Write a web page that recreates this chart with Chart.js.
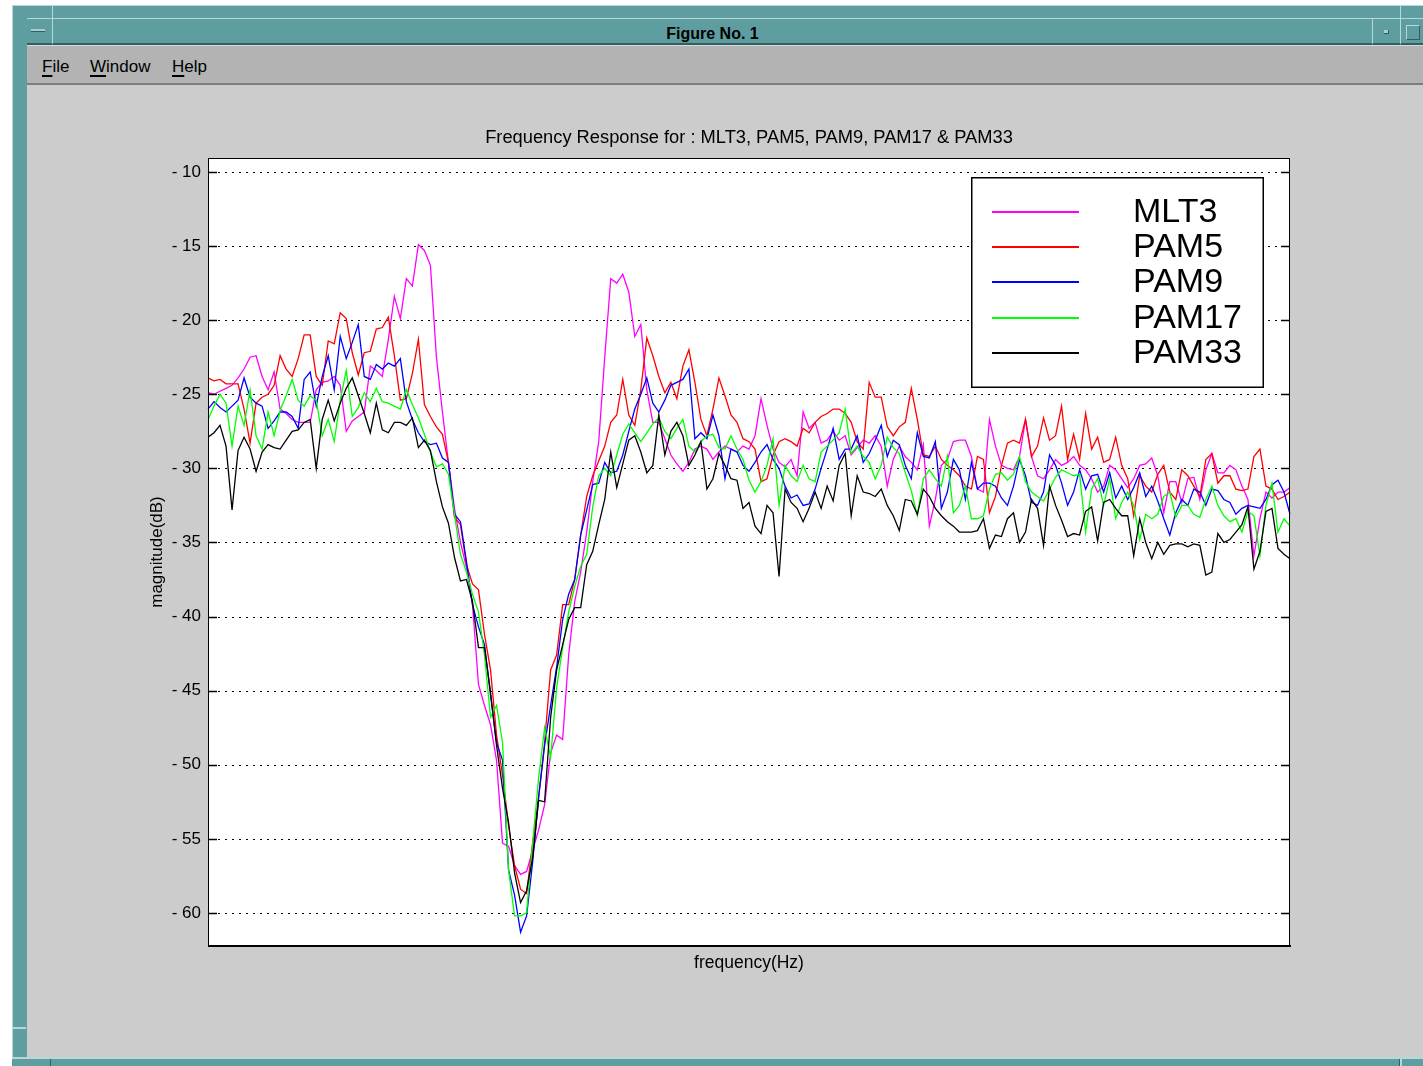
<!DOCTYPE html>
<html>
<head>
<meta charset="utf-8">
<title>Figure No. 1</title>
<script src="https://cdn.jsdelivr.net/npm/chart.js@4/dist/chart.umd.min.js"></script>
<style>
  html, body { margin: 0; padding: 0; background: #ffffff; }
  body { width: 1423px; height: 1066px; position: relative; overflow: hidden;
         font-family: "Liberation Sans", Arial, Helvetica, sans-serif; }
  .abs { position: absolute; box-sizing: border-box; }
  #frame { left: 12px; top: 5px; width: 1411px; height: 1061px; background: #5f9ea0;
           border-top: 1px solid #b7d8d9; border-left: 1px solid #b7d8d9; }
  #titlebar { left: 27px; top: 18px; width: 1346px; height: 27px; background: #5f9ea0;
              border-top: 1px solid #b7d8d9; border-bottom: 2px solid #2f5f61; }
  #sysbtn { left: 27px; top: 18px; width: 26px; height: 27px; border-right: 1px solid #b7d8d9;
            border-top: 1px solid #b7d8d9; border-bottom: 2px solid #2f5f61; }
  #sysicon { left: 31px; top: 29px; width: 14px; height: 3px; background: #a9cfd0;
             border-bottom: 1px solid #2f5f61; }
  #minbtn { left: 1372px; top: 18px; width: 28px; height: 27px; border-left: 1px solid #b7d8d9;
            border-top: 1px solid #b7d8d9; border-bottom: 2px solid #2f5f61; }
  #mindot { left: 1384px; top: 30px; width: 5px; height: 4px; background: #a9cfd0;
            border-right: 1px solid #2f5f61; border-bottom: 1px solid #2f5f61; }
  #maxbtn { left: 1400px; top: 18px; width: 23px; height: 27px; border-left: 1px solid #b7d8d9;
            border-top: 1px solid #b7d8d9; border-bottom: 2px solid #2f5f61; }
  #maxsq { left: 1406px; top: 25px; width: 14px; height: 15px; border: 1px solid #b7d8d9;
           border-right-color: #2f5f61; border-bottom-color: #2f5f61; }
  .vsep { width: 1px; background: #b7d8d9; }
  #caption { left: 53px; top: 21px; width: 1319px; height: 26px; line-height: 26px; text-align: center;
             font-weight: bold; font-size: 16px; color: #000; }
  #menubar { left: 27px; top: 45px; width: 1396px; height: 40px; background: #b3b3b3;
             border-top: 1px solid #dcdcdc; border-bottom: 2px solid #7d7d7d; }
  .menu { top: 55px; height: 24px; line-height: 24px; font-size: 17px; color: #000; }
  .menu u { text-decoration-thickness: 2px; text-underline-offset: 3px; }
  #figure { left: 27px; top: 85px; width: 1396px; height: 972px; background: #cccccc; }
  #bottom { left: 12px; top: 1057px; width: 1411px; height: 9px; background: #5f9ea0;
            border-top: 2px solid #b7d8d9; }
  #plot { left: 0; top: 0; z-index: 5; }
</style>
</head>
<body>
<div id="frame" class="abs"></div>
<div class="abs vsep" style="left:52px;top:6px;height:12px;"></div>
<div class="abs vsep" style="left:1400px;top:6px;height:12px;"></div>
<div class="abs" style="left:12px;top:1027px;width:14px;height:2px;background:#b7d8d9;"></div>
<div id="titlebar" class="abs"></div>
<div id="sysbtn" class="abs"></div>
<div id="sysicon" class="abs"></div>
<div id="minbtn" class="abs"></div>
<div id="mindot" class="abs"></div>
<div id="maxbtn" class="abs"></div>
<div id="maxsq" class="abs"></div>
<div id="caption" class="abs">Figure No. 1</div>
<div id="menubar" class="abs"></div>
<div class="abs menu" style="left:42px;"><u>F</u>ile</div>
<div class="abs menu" style="left:90px;"><u>W</u>indow</div>
<div class="abs menu" style="left:172px;"><u>H</u>elp</div>
<div id="figure" class="abs"></div>
<div id="bottom" class="abs"></div>
<div class="abs" style="left:50px;top:1059px;width:1px;height:7px;background:#2f5f61;"></div>
<div class="abs" style="left:1399px;top:1059px;width:1px;height:7px;background:#2f5f61;"></div>
<div class="abs" style="left:1400px;top:1059px;width:2px;height:7px;background:#b7d8d9;"></div>
<canvas id="plot" class="abs" width="1423" height="1066"></canvas>

<script>
// Magnitude (dB) of each line code, sampled over the same frequency bins.
const mlt3 = [
  -24.9, -25.0, -24.8, -24.6, -24.4, -23.9, -23.3, -22.5, -22.4, -23.8,
  -24.7, -23.5, -26.0, -26.3, -26.7, -26.9, -26.9, -26.9, -24.7, -24.2,
  -24.1, -23.8, -24.4, -27.5, -26.8, -26.5, -26.2, -23.1, -23.4, -23.8,
  -21.3, -18.4, -19.9, -17.2, -17.7, -14.9, -15.3, -16.3, -22.5, -26.2,
  -29.6, -32.7, -35.0, -36.7, -39.2, -44.6, -46.0, -47.3, -49.7, -55.3,
  -55.5, -56.8, -57.4, -57.2, -55.8, -54.4, -52.7, -49.2, -48.0, -48.3,
  -42.6, -39.0, -37.0, -34.3, -30.9, -28.2, -22.5, -17.2, -17.5, -16.9,
  -18.1, -21.1, -20.3, -24.7, -26.9, -26.9, -28.0, -29.1, -29.7, -30.2,
  -29.6, -28.7, -28.5, -28.7, -29.4, -28.9, -28.5, -28.7, -28.9, -28.5,
  -28.7, -27.8, -25.3, -27.1, -28.7, -29.6, -29.9, -29.4, -30.5, -26.2,
  -27.3, -26.9, -28.3, -28.1, -27.5, -28.1, -27.8, -29.1, -28.6, -28.1,
  -28.3, -27.8, -28.5, -31.2, -29.4, -28.5, -29.2, -29.6, -30.1, -28.4,
  -33.9, -32.1, -29.8, -29.4, -28.2, -28.1, -28.1, -29.2, -31.4, -31.6,
  -26.7, -28.5, -29.8, -30.0, -30.1, -29.2, -26.7, -29.2, -30.5, -30.7,
  -30.1, -29.4, -29.8, -29.6, -29.2, -29.8, -30.1, -30.7, -31.6, -31.2,
  -29.8, -30.1, -30.7, -31.3, -30.7, -29.8, -29.7, -29.3, -30.5, -33.0,
  -30.9, -30.9, -32.3, -30.7, -30.6, -32.1, -30.1, -29.0, -30.3, -30.3,
  -29.8, -30.1, -31.2, -32.1, -35.9, -33.4, -31.6, -32.0, -31.6, -31.6,
  -31.3
];

const pam5 = [
  -23.9, -24.1, -24.0, -24.3, -24.3, -24.3, -26.0, -28.3, -25.6, -25.2,
  -25.0, -24.4, -22.4, -23.3, -23.8, -22.6, -21.0, -21.0, -23.8, -24.4,
  -21.4, -21.6, -19.5, -19.9, -22.2, -23.7, -22.2, -22.1, -20.6, -20.5,
  -19.8, -22.4, -25.4, -25.3, -23.6, -21.3, -25.7, -26.5, -27.2, -27.7,
  -29.6, -33.3, -33.8, -36.5, -37.8, -38.2, -41.2, -43.6, -48.0, -50.7,
  -54.1, -56.8, -58.4, -58.7, -55.3, -52.2, -48.5, -43.6, -42.6, -39.2,
  -39.2, -37.5, -34.5, -31.9, -30.5, -29.5, -28.5, -26.9, -26.4, -24.0,
  -26.4, -27.1, -24.7, -21.2, -22.4, -23.8, -24.9, -24.2, -25.3, -23.1,
  -22.0, -24.2, -26.7, -27.8, -26.0, -23.9, -25.1, -26.4, -26.9, -28.0,
  -28.2, -28.7, -30.9, -30.7, -29.1, -28.2, -28.0, -28.2, -28.5, -27.3,
  -27.6, -26.9, -26.5, -26.3, -26.0, -26.0, -26.3, -26.9, -28.2, -28.7,
  -24.2, -25.2, -25.2, -27.2, -27.8, -27.2, -26.9, -24.6, -26.7, -29.1,
  -29.2, -28.5, -29.4, -29.8, -30.1, -30.5, -31.2, -31.4, -29.2, -29.4,
  -33.0, -31.9, -29.8, -28.3, -28.1, -28.3, -26.7, -29.2, -28.5, -26.6,
  -28.1, -27.8, -25.8, -29.4, -27.7, -29.4, -26.3, -28.7, -27.9, -29.6,
  -29.4, -27.9, -29.8, -30.7, -33.2, -30.5, -31.2, -31.6, -30.4, -29.8,
  -31.6, -32.1, -30.1, -30.5, -31.2, -31.9, -29.4, -29.0, -31.0, -30.5,
  -30.5, -31.4, -31.5, -31.4, -29.2, -28.7, -31.2, -31.4, -32.1, -31.9,
  -31.6
];

const pam9 = [
  -26.0, -25.5, -25.9, -26.2, -25.8, -25.4, -23.9, -25.2, -25.6, -25.8,
  -27.3, -26.8, -26.2, -26.2, -26.5, -27.3, -24.0, -23.5, -25.8, -23.8,
  -22.4, -24.7, -21.1, -22.6, -21.5, -20.3, -23.8, -24.0, -23.0, -23.3,
  -22.9, -23.1, -22.6, -25.5, -26.7, -27.6, -28.2, -28.4, -28.3, -29.3,
  -29.6, -33.1, -33.6, -36.3, -39.2, -40.7, -41.9, -45.3, -48.5, -49.7,
  -57.1, -58.8, -61.3, -60.2, -56.6, -52.2, -48.7, -46.0, -43.4, -40.2,
  -38.5, -37.5, -34.5, -32.8, -31.1, -31.0, -29.6, -30.3, -30.2, -29.1,
  -27.5, -26.0, -25.0, -23.9, -25.6, -26.2, -25.4, -24.4, -24.2, -24.0,
  -23.3, -28.0, -27.6, -28.0, -26.4, -27.8, -30.7, -28.7, -28.9, -29.8,
  -30.2, -29.6, -28.9, -28.4, -29.4, -30.0, -31.2, -32.0, -31.8, -32.5,
  -32.4, -31.4, -30.0, -28.7, -27.3, -29.4, -28.7, -28.7, -27.8, -29.6,
  -29.0, -28.1, -27.1, -29.2, -28.1, -28.4, -29.8, -30.7, -27.6, -29.2,
  -29.3, -28.2, -32.7, -31.6, -29.4, -30.1, -32.1, -29.6, -31.4, -31.0,
  -31.0, -31.2, -32.0, -32.5, -31.2, -29.4, -30.5, -32.3, -32.5, -31.6,
  -29.1, -29.8, -31.0, -32.5, -31.6, -30.1, -31.4, -30.5, -30.4, -31.6,
  -30.3, -32.0, -31.2, -32.1, -31.3, -30.3, -31.9, -31.2, -32.2, -33.4,
  -34.5, -33.0, -32.1, -32.5, -31.4, -31.6, -32.5, -31.4, -31.5, -32.1,
  -32.3, -33.1, -32.7, -32.5, -32.6, -32.7, -32.1, -31.1, -30.8, -31.6,
  -33.1
];

const pam17 = [
  -26.7, -25.8, -25.0, -25.6, -28.5, -25.8, -27.1, -24.7, -27.8, -28.7,
  -26.2, -27.8, -26.1, -25.1, -24.0, -25.4, -25.8, -25.1, -25.4, -27.8,
  -26.7, -28.2, -25.4, -23.4, -26.5, -25.9, -24.9, -25.5, -24.6, -25.5,
  -25.6, -25.8, -26.0, -24.7, -25.7, -26.6, -27.7, -28.9, -29.9, -29.7,
  -30.4, -33.1, -35.8, -37.0, -38.5, -39.7, -42.6, -46.8, -46.0, -48.5,
  -57.1, -60.2, -60.2, -60.0, -55.3, -50.9, -47.5, -49.5, -44.8, -42.1,
  -39.7, -38.0, -36.6, -35.8, -32.6, -30.5, -30.0, -30.5, -29.1, -27.7,
  -27.0, -27.6, -28.2, -27.6, -27.0, -26.6, -27.5, -28.0, -27.3, -26.7,
  -28.5, -28.9, -28.2, -27.8, -27.7, -28.6, -28.7, -27.8, -28.7, -29.4,
  -30.8, -31.6, -30.9, -29.8, -28.0, -32.5, -29.8, -30.5, -30.9, -29.8,
  -30.7, -30.9, -28.9, -28.5, -28.1, -27.6, -26.0, -29.0, -28.5, -29.2,
  -29.6, -30.7, -29.8, -27.9, -28.6, -29.0, -30.3, -31.5, -33.2, -30.7,
  -30.1, -30.7, -31.2, -29.2, -33.0, -32.5, -31.2, -33.4, -33.4, -33.2,
  -31.4, -30.4, -30.3, -30.8, -30.4, -29.2, -30.9, -31.6, -31.9, -32.2,
  -31.4, -30.6, -30.1, -30.3, -30.5, -30.4, -34.3, -31.4, -30.7, -32.5,
  -30.7, -33.4, -32.3, -31.6, -32.5, -34.8, -33.1, -33.4, -33.1, -31.9,
  -31.6, -33.3, -32.5, -32.5, -33.1, -33.3, -32.1, -31.2, -32.5, -33.2,
  -33.6, -33.4, -34.3, -32.9, -33.2, -35.9, -32.5, -31.0, -34.3, -33.4,
  -33.9
];

const pam33 = [
  -27.9, -27.6, -27.1, -28.5, -32.8, -28.8, -27.9, -28.7, -30.2, -28.9,
  -28.4, -28.6, -28.7, -28.1, -27.5, -27.4, -26.9, -26.7, -30.0, -26.7,
  -25.4, -26.8, -25.6, -24.6, -23.9, -25.1, -26.3, -27.6, -25.6, -27.4,
  -27.6, -26.9, -26.9, -27.1, -26.6, -28.6, -28.1, -28.8, -30.9, -32.6,
  -33.7, -36.0, -37.6, -37.5, -39.0, -42.1, -42.1, -45.1, -48.7, -51.6,
  -53.9, -57.3, -59.3, -58.5, -56.3, -52.4, -52.5, -46.8, -43.6, -41.9,
  -40.2, -39.4, -39.4, -36.5, -35.6, -33.8, -32.1, -28.9, -31.3, -29.7,
  -28.1, -27.8, -28.9, -30.3, -29.8, -26.4, -29.1, -27.5, -26.9, -27.8,
  -29.8, -29.1, -28.2, -31.4, -30.7, -29.0, -29.8, -30.7, -30.8, -32.7,
  -32.3, -33.9, -34.4, -32.5, -33.0, -37.3, -31.4, -32.3, -32.7, -33.6,
  -32.7, -31.6, -32.7, -31.2, -32.2, -29.8, -29.0, -33.2, -30.5, -31.6,
  -31.7, -31.9, -31.4, -32.5, -33.2, -34.2, -32.1, -32.2, -33.1, -31.4,
  -31.9, -32.7, -33.2, -33.6, -33.9, -34.3, -34.3, -34.3, -34.2, -33.4,
  -35.4, -34.5, -34.6, -33.4, -33.0, -35.0, -34.3, -32.1, -32.7, -35.2,
  -31.2, -32.5, -33.5, -34.6, -34.4, -34.5, -32.9, -32.6, -34.9, -32.3,
  -32.1, -32.7, -33.2, -33.2, -35.9, -33.4, -35.0, -36.1, -35.0, -35.8,
  -35.2, -35.1, -35.1, -35.3, -35.1, -35.2, -37.2, -37.0, -34.4, -35.0,
  -34.8, -34.3, -33.8, -32.6, -36.8, -35.6, -32.9, -32.7, -35.4, -35.8,
  -36.1
];

const seriesNames  = ['MLT3', 'PAM5', 'PAM9', 'PAM17', 'PAM33'];
const seriesValues = [mlt3, pam5, pam9, pam17, pam33];
const seriesColors = ['#ff00ff', '#ff0000', '#0000ff', '#00ff00', '#000000'];

const yTicks = [-10, -15, -20, -25, -30, -35, -40, -45, -50, -55, -60];
const yLimits = [-62.23, -9.06];
const sampleIndex = mlt3.map((_, i) => i);

const FONT = '"Liberation Sans", Arial, Helvetica, sans-serif';
const titleText = 'Frequency Response for : MLT3, PAM5, PAM9, PAM17 & PAM33';
const xTitleText = 'frequency(Hz)';
const yTitleText = 'magnitude(dB)';

// Axes box, dotted grid, inward tick marks, titles and boxed legend.
const axesDecor = {
  id: 'axesDecor',
  beforeDraw(chart) {
    const { ctx, chartArea: a } = chart;
    ctx.save();
    ctx.fillStyle = '#ffffff';
    ctx.fillRect(a.left, a.top, a.right - a.left, a.bottom - a.top);
    ctx.restore();
  },
  beforeDatasetsDraw(chart) {
    const { ctx, chartArea: a, scales } = chart;
    ctx.save();
    ctx.strokeStyle = '#000000';
    ctx.lineWidth = 1;
    ctx.setLineDash([2, 5]);
    scales.y.ticks.forEach(t => {
      const y = Math.round(scales.y.getPixelForValue(t.value)) + 0.5;
      ctx.beginPath();
      ctx.moveTo(a.left + 10, y);
      ctx.lineTo(a.right - 8, y);
      ctx.stroke();
    });
    ctx.restore();
  },
  afterDatasetsDraw(chart) {
    const { ctx, chartArea: a, scales } = chart;
    ctx.save();
    ctx.strokeStyle = '#000000';
    ctx.lineWidth = 1;
    ctx.strokeRect(a.left + 0.5, a.top + 0.5, a.right - a.left - 1, a.bottom - a.top - 1);
    ctx.fillStyle = '#000000';
    ctx.fillRect(a.left, a.bottom - 1, a.right - a.left + 1, 2);
    ctx.lineWidth = 1.5;
    scales.y.ticks.forEach(t => {
      const y = Math.round(scales.y.getPixelForValue(t.value)) + 0.5;
      ctx.beginPath();
      ctx.moveTo(a.left, y); ctx.lineTo(a.left + 9, y);
      ctx.moveTo(a.right - 9, y); ctx.lineTo(a.right, y);
      ctx.stroke();
    });
    // titles
    const cx = (a.left + a.right) / 2;
    const cy = (a.top + a.bottom) / 2;
    ctx.fillStyle = '#000000';
    ctx.textAlign = 'center';
    ctx.textBaseline = 'middle';
    ctx.font = '18.3px ' + FONT;
    ctx.fillText(titleText, cx, a.top - 20);
    ctx.font = '17.5px ' + FONT;
    ctx.fillText(xTitleText, cx, a.bottom + 17);
    ctx.translate(a.left - 51, cy);
    ctx.rotate(-Math.PI / 2);
    ctx.font = '17px ' + FONT;
    ctx.fillText(yTitleText, 0, 0);
    ctx.restore();
  },
  afterDraw(chart) {
    const { ctx, chartArea: a } = chart;
    const bx = a.right - 319, by = a.top + 19, bw = 293, bh = 211;
    ctx.save();
    ctx.fillStyle = '#ffffff';
    ctx.fillRect(bx, by, bw, bh);
    ctx.strokeStyle = '#000000';
    ctx.lineWidth = 1.5;
    ctx.strokeRect(bx + 0.75, by + 0.75, bw - 1.5, bh - 1.5);
    ctx.font = '34px ' + FONT;
    ctx.textAlign = 'left';
    ctx.textBaseline = 'middle';
    chart.data.datasets.forEach((ds, k) => {
      const y = Math.round(by + 35 + k * 35.2);
      ctx.strokeStyle = ds.borderColor;
      ctx.lineWidth = 2;
      ctx.beginPath();
      ctx.moveTo(bx + 21, y);
      ctx.lineTo(bx + 108, y);
      ctx.stroke();
      ctx.fillStyle = '#000000';
      ctx.fillText(ds.label, bx + 162, y + 1);
    });
    ctx.restore();
  }
};

new Chart(document.getElementById('plot'), {
  type: 'line',
  data: {
    labels: sampleIndex,
    datasets: seriesNames.map((name, k) => ({
      label: name,
      data: seriesValues[k],
      borderColor: seriesColors[k],
      backgroundColor: seriesColors[k],
      borderWidth: 1.3,
      pointRadius: 0,
      tension: 0,
      fill: false,
      order: seriesNames.length - k
    }))
  },
  options: {
    responsive: false,
    animation: false,
    devicePixelRatio: 1,
    events: [],
    layout: { padding: { left: 148, top: 158, right: 133, bottom: 120 } },
    plugins: {
      legend: { display: false },
      title: { display: false },
      tooltip: { enabled: false }
    },
    scales: {
      x: { type: 'category', display: false, offset: false },
      y: {
        min: yLimits[0],
        max: yLimits[1],
        afterFit(scale) { scale.width = 60; },
        afterBuildTicks(scale) { scale.ticks = yTicks.map(v => ({ value: v })); },
        grid: { display: false, drawTicks: false },
        border: { display: false },
        ticks: {
          color: '#000000',
          padding: 7,
          font: { family: FONT, size: 17 },
          callback: v => '- ' + Math.abs(v)
        }
      }
    }
  },
  plugins: [axesDecor]
});
</script>
</body>
</html>
